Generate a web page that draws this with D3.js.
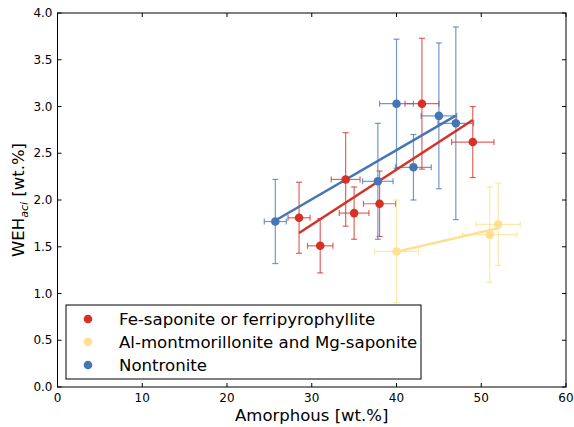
<!DOCTYPE html>
<html>
<head>
<meta charset="utf-8">
<script src="https://cdn.jsdelivr.net/npm/d3@7"></script>
<style>
  body { margin: 0; background: #fff; }
  text { font-family: "DejaVu Sans", sans-serif; fill: #000; }
</style>
</head>
<body>
<div id="chart"></div>
<script>
// groups (legend order)
const groupNames = ['Fe-saponite or ferripyrophyllite', 'Al-montmorillonite and Mg-saponite', 'Nontronite'];
const groupColors = ['#d73027', '#fee090', '#4575b4'];

// Fe-saponite or ferripyrophyllite
const feX = [28.5, 31, 34, 35, 38, 43, 49];
const feY = [1.81, 1.51, 2.22, 1.86, 1.96, 3.03, 2.62];
const feXErr = [1.3, 1.5, 1.7, 1.75, 1.9, 2.0, 2.5];
const feYErr = [0.38, 0.29, 0.5, 0.28, 0.35, 0.7, 0.38];

// Al-montmorillonite and Mg-saponite
const alX = [40, 51, 52];
const alY = [1.45, 1.63, 1.74];
const alXErr = [2.6, 3.2, 2.6];
const alYErr = [0.55, 0.51, 0.44];

// Nontronite
const noX = [25.7, 37.8, 40, 42, 45, 47];
const noY = [1.77, 2.2, 3.03, 2.35, 2.9, 2.82];
const noXErr = [1.3, 1.8, 2.0, 2.1, 2.1, 2.1];
const noYErr = [0.45, 0.62, 0.69, 0.35, 0.78, 1.03];

const xTicks = [0, 10, 20, 30, 40, 50, 60];
const yTicks = [0, 0.5, 1, 1.5, 2, 2.5, 3, 3.5, 4];

const width = 574, height = 427;
const margin = {top: 13, right: 8, bottom: 40, left: 57.5};

const svg = d3.select('#chart').append('svg')
  .attr('width', width).attr('height', height);

const x = d3.scaleLinear().domain([0, 60]).range([margin.left, width - margin.right]);
const y = d3.scaleLinear().domain([0, 4]).range([height - margin.bottom, margin.top]);

const groups = [
  {name: groupNames[0], color: groupColors[0], xs: feX, ys: feY, xe: feXErr, ye: feYErr},
  {name: groupNames[1], color: groupColors[1], xs: alX, ys: alY, xe: alXErr, ye: alYErr},
  {name: groupNames[2], color: groupColors[2], xs: noX, ys: noY, xe: noXErr, ye: noYErr}
];

groups.forEach(g => {
  g.points = g.xs.map((v, i) => ({x: v, y: g.ys[i], xe: g.xe[i], ye: g.ye[i]}));
  // least squares fit
  const mx = d3.mean(g.xs), my = d3.mean(g.ys);
  const sxy = d3.sum(g.xs, (v, i) => (v - mx) * (g.ys[i] - my));
  const sxx = d3.sum(g.xs, v => (v - mx) * (v - mx));
  const slope = sxy / sxx;
  const x0 = d3.min(g.xs), x1 = d3.max(g.xs);
  g.fit = [[x0, my + slope * (x0 - mx)], [x1, my + slope * (x1 - mx)]];
});

const cap = 3;
const errG = svg.append('g');
groups.forEach(g => {
  const gg = errG.append('g').attr('stroke', g.color).attr('stroke-opacity', 0.75).attr('stroke-width', 1.2);
  g.points.forEach(p => {
    gg.append('line').attr('x1', x(p.x)).attr('x2', x(p.x)).attr('y1', y(p.y - p.ye)).attr('y2', y(p.y + p.ye));
    gg.append('line').attr('x1', x(p.x - p.xe)).attr('x2', x(p.x + p.xe)).attr('y1', y(p.y)).attr('y2', y(p.y));
    [p.y - p.ye, p.y + p.ye].forEach(v => gg.append('line')
      .attr('x1', x(p.x) - cap).attr('x2', x(p.x) + cap).attr('y1', y(v)).attr('y2', y(v)));
    [p.x - p.xe, p.x + p.xe].forEach(v => gg.append('line')
      .attr('x1', x(v)).attr('x2', x(v)).attr('y1', y(p.y) - cap).attr('y2', y(p.y) + cap));
  });
});

const line = d3.line().x(d => x(d[0])).y(d => y(d[1]));
groups.forEach(g => {
  svg.append('path').attr('d', line(g.fit))
    .attr('fill', 'none').attr('stroke', g.color).attr('stroke-width', 2.5);
});

groups.forEach(g => {
  svg.append('g').selectAll('circle').data(g.points).join('circle')
    .attr('cx', d => x(d.x)).attr('cy', d => y(d.y)).attr('r', 4.3)
    .attr('fill', g.color);
});

// frame
svg.append('rect')
  .attr('x', x(0)).attr('y', y(4)).attr('width', x(60) - x(0)).attr('height', y(0) - y(4))
  .attr('fill', 'none').attr('stroke', '#000').attr('stroke-width', 1);

// ticks inward on all sides
const tl = 4;
const tk = svg.append('g').attr('stroke', '#000').attr('stroke-width', 1);
xTicks.forEach(t => {
  tk.append('line').attr('x1', x(t)).attr('x2', x(t)).attr('y1', y(0)).attr('y2', y(0) - tl);
  tk.append('line').attr('x1', x(t)).attr('x2', x(t)).attr('y1', y(4)).attr('y2', y(4) + tl);
});
yTicks.forEach(t => {
  tk.append('line').attr('x1', x(0)).attr('x2', x(0) + tl).attr('y1', y(t)).attr('y2', y(t));
  tk.append('line').attr('x1', x(60)).attr('x2', x(60) - tl).attr('y1', y(t)).attr('y2', y(t));
});

svg.append('g').selectAll('text').data(xTicks).join('text')
  .attr('x', d => x(d)).attr('y', y(0) + 14.5).attr('text-anchor', 'middle')
  .attr('font-size', 12).text(d => d);
svg.append('g').selectAll('text').data(yTicks).join('text')
  .attr('x', x(0) - 5).attr('y', d => y(d)).attr('dy', '0.35em').attr('text-anchor', 'end')
  .attr('font-size', 12).text(d => d.toFixed(1));

svg.append('text').attr('x', (x(0) + x(60)) / 2).attr('y', 421).attr('text-anchor', 'middle')
  .attr('font-size', 16.5).text('Amorphous [wt.%]');

const yl = svg.append('text').attr('transform', `translate(24,${(y(0) + y(4)) / 2}) rotate(-90)`)
  .attr('text-anchor', 'middle').attr('font-size', 16.5);
yl.append('tspan').text('WEH');
yl.append('tspan').attr('font-size', 11).attr('font-style', 'italic').attr('dy', 4).text('aci');
yl.append('tspan').attr('dy', -4).text(' [wt.%]');

// legend
const lg = svg.append('g').attr('transform', 'translate(66,305)');
lg.append('rect').attr('width', 355).attr('height', 74)
  .attr('fill', '#fff').attr('stroke', '#000').attr('stroke-width', 1);
groups.forEach((g, i) => {
  const yy = 14 + i * 23;
  lg.append('circle').attr('cx', 22).attr('cy', yy).attr('r', 4.3).attr('fill', g.color);
  lg.append('text').attr('x', 53).attr('y', yy).attr('dy', '0.35em').attr('font-size', 16.6).text(g.name);
});
</script>
</body>
</html>
